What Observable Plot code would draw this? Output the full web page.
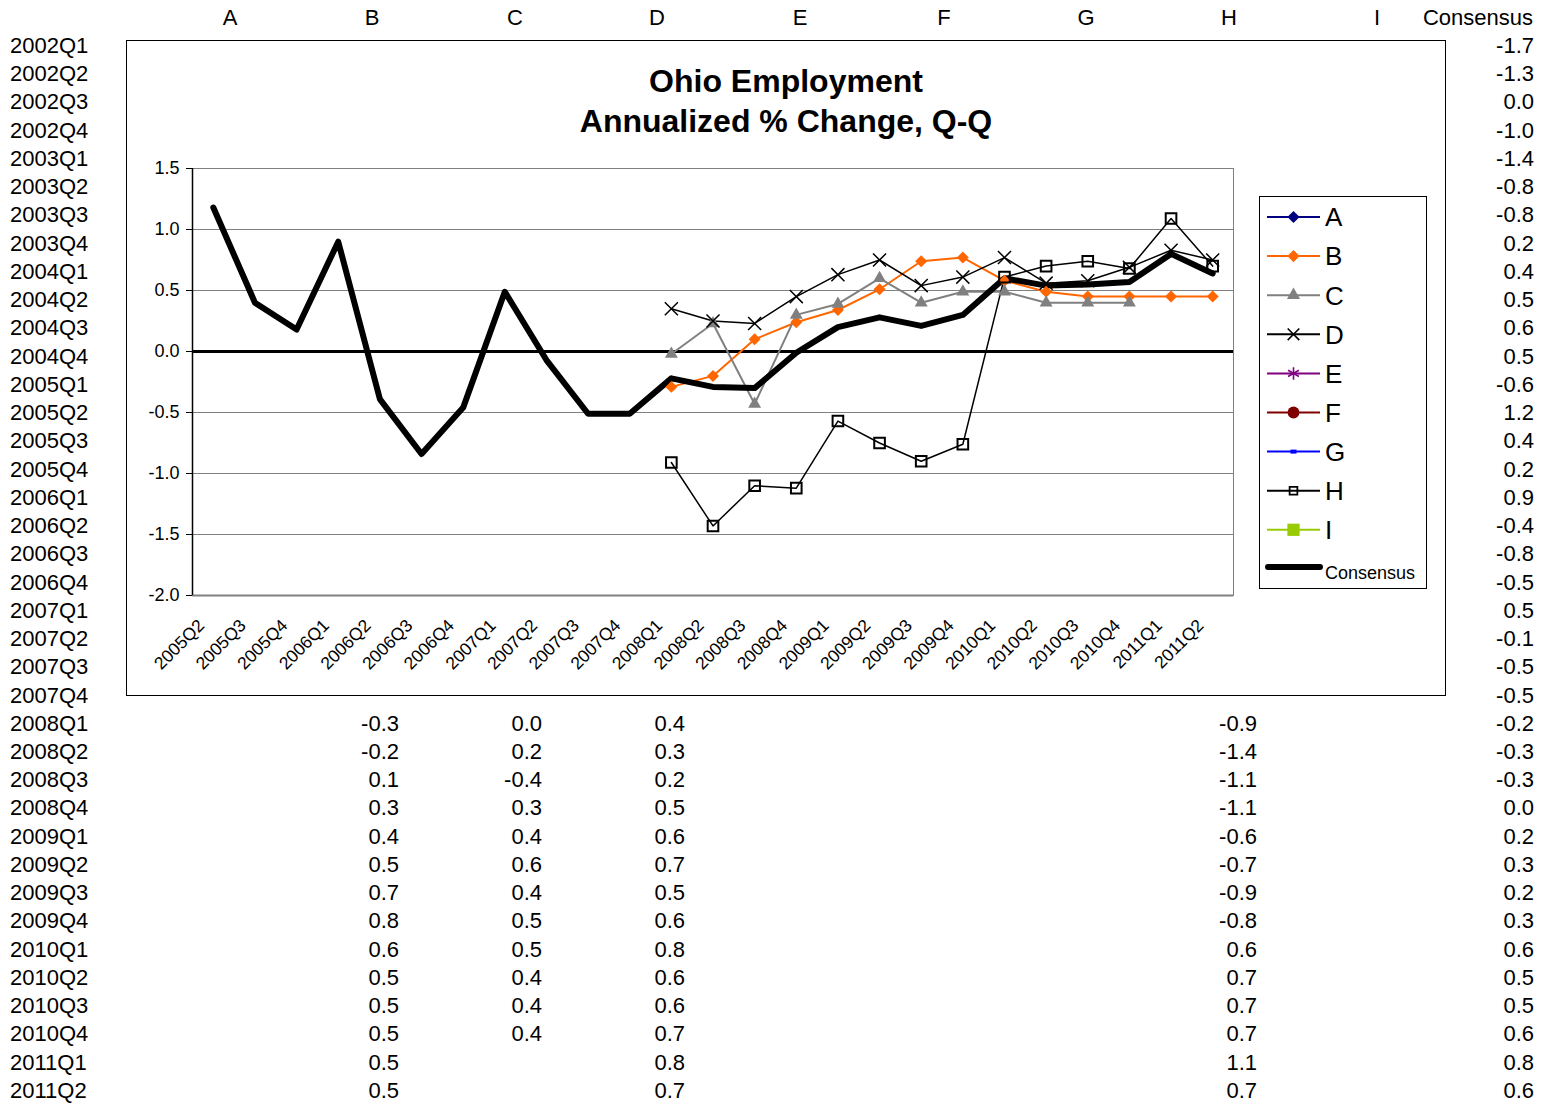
<!DOCTYPE html>
<html><head><meta charset="utf-8">
<script src="https://cdn.jsdelivr.net/npm/d3@7"></script>
<script src="https://cdn.jsdelivr.net/npm/@observablehq/plot@0.6"></script>
<style>
body{margin:0;background:#fff;font-family:"Liberation Sans",Arial,sans-serif;}
#page{position:relative;width:1541px;height:1104px;overflow:hidden;background:#fff;}
.cell{position:absolute;font-size:22px;line-height:22px;white-space:nowrap;color:#000;}
#box{position:absolute;left:126px;top:40px;width:1320px;height:656px;box-sizing:border-box;border:1px solid #000;background:#fff;}
#chart{position:absolute;left:126px;top:40px;}
.title{position:absolute;left:126px;width:1320px;text-align:center;font-weight:bold;font-size:32px;line-height:32px;}
#legend{position:absolute;left:1259px;top:196px;width:168px;height:393px;box-sizing:border-box;border:1px solid #000;background:#fff;}
</style></head><body><div id="page"></div>
<script>
// ---------- spreadsheet data ----------
const rowLabels = ["2002Q1","2002Q2","2002Q3","2002Q4","2003Q1","2003Q2","2003Q3","2003Q4",
  "2004Q1","2004Q2","2004Q3","2004Q4","2005Q1","2005Q2","2005Q3","2005Q4",
  "2006Q1","2006Q2","2006Q3","2006Q4","2007Q1","2007Q2","2007Q3","2007Q4",
  "2008Q1","2008Q2","2008Q3","2008Q4","2009Q1","2009Q2","2009Q3","2009Q4",
  "2010Q1","2010Q2","2010Q3","2010Q4","2011Q1","2011Q2"];
const columnHeaders = ["A","B","C","D","E","F","G","H","I"];
const consensusHeader = "Consensus";
const consensusTable = [-1.7,-1.3,0.0,-1.0,-1.4,-0.8,-0.8,0.2,0.4,0.5,0.6,0.5,
  -0.6,1.2,0.4,0.2,0.9,-0.4,-0.8,-0.5,0.5,-0.1,-0.5,-0.5,
  -0.2,-0.3,-0.3,0.0,0.2,0.3,0.2,0.3,0.6,0.5,0.5,0.6,0.8,0.6];
const tableStart = "2008Q1";
const tableB = [-0.3,-0.2,0.1,0.3,0.4,0.5,0.7,0.8,0.6,0.5,0.5,0.5,0.5,0.5];
const tableC = [0.0,0.2,-0.4,0.3,0.4,0.6,0.4,0.5,0.5,0.4,0.4,0.4];
const tableD = [0.4,0.3,0.2,0.5,0.6,0.7,0.5,0.6,0.8,0.6,0.6,0.7,0.8,0.7];
const tableH = [-0.9,-1.4,-1.1,-1.1,-0.6,-0.7,-0.9,-0.8,0.6,0.7,0.7,0.7,1.1,0.7];

// ---------- chart data ----------
const chartTitle = ["Ohio Employment", "Annualized % Change, Q-Q"];
const quarters = ["2005Q2","2005Q3","2005Q4","2006Q1","2006Q2","2006Q3","2006Q4",
  "2007Q1","2007Q2","2007Q3","2007Q4","2008Q1","2008Q2","2008Q3","2008Q4",
  "2009Q1","2009Q2","2009Q3","2009Q4","2010Q1","2010Q2","2010Q3","2010Q4","2011Q1","2011Q2"];
const consensus = [1.18,0.40,0.18,0.90,-0.39,-0.84,-0.46,0.49,-0.07,-0.51,-0.51,
  -0.22,-0.29,-0.30,-0.01,0.20,0.28,0.21,0.30,0.60,0.54,0.55,0.57,0.80,0.64];
const seriesStart = "2008Q1";
const seriesB = [-0.29,-0.20,0.10,0.24,0.34,0.51,0.74,0.77,0.58,0.49,0.45,0.45,0.45,0.45];
const seriesC = [-0.02,0.23,-0.43,0.30,0.39,0.60,0.40,0.49,0.49,0.40,0.40,0.40];
const seriesD = [0.35,0.25,0.23,0.45,0.63,0.75,0.54,0.61,0.77,0.56,0.58,0.69,0.83,0.75];
const seriesH = [-0.91,-1.43,-1.10,-1.12,-0.57,-0.75,-0.90,-0.76,0.61,0.70,0.74,0.68,1.09,0.70];
const yTicks = [-2.0,-1.5,-1.0,-0.5,0.0,0.5,1.0,1.5];

const legendNames = ["A","B","C","D","E","F","G","H","I"];
const legendColors = ["#000080","#FF6600","#808080","#000000","#800080","#800000","#0000FF","#000000","#99CC00"];
const legendSymbols = ["diamond","diamond","triangle","times","asterisk","circle","dash","square","squareFilled"];

// ---------- layout ----------
const page = document.getElementById("page");
const rowY0 = 46, rowStep = 28.24, headerY = 18;
const colCenters = [230,372,515,657,800,944,1086,1229,1377];
const valueRight = {B:399, C:542, D:685, H:1257};
const consensusRight = 1534;
const fmt = v => v.toFixed(1);

function cell(text, opts) {
  const d = document.createElement("div");
  d.className = "cell";
  d.textContent = text;
  d.style.top = (opts.y - 11) + "px";
  if (opts.left != null) d.style.left = opts.left + "px";
  if (opts.right != null) { d.style.right = (1541 - opts.right) + "px"; d.style.textAlign = "right"; }
  if (opts.center != null) { d.style.left = opts.center + "px"; d.style.transform = "translateX(-50%)"; }
  page.appendChild(d);
}
columnHeaders.forEach((h, i) => cell(h, {center: colCenters[i], y: headerY}));
cell(consensusHeader, {right: consensusRight - 1, y: headerY});
rowLabels.forEach((r, i) => cell(r, {left: 10, y: rowY0 + i * rowStep}));
consensusTable.forEach((v, i) => cell(fmt(v), {right: consensusRight, y: rowY0 + i * rowStep}));
const t0 = rowLabels.indexOf(tableStart);
[["B", tableB], ["C", tableC], ["D", tableD], ["H", tableH]].forEach(([k, arr]) =>
  arr.forEach((v, i) => cell(fmt(v), {right: valueRight[k], y: rowY0 + (t0 + i) * rowStep})));

// chart box
const box = document.createElement("div"); box.id = "box"; page.appendChild(box);

// ---------- chart ----------
const s0 = quarters.indexOf(seriesStart);
const rows = (vals, start) => vals.map((v, i) => ({q: quarters[start + i], v}));
const consRows = rows(consensus, 0);
const bRows = rows(seriesB, s0), cRows = rows(seriesC, s0), dRows = rows(seriesD, s0), hRows = rows(seriesH, s0);

const leftAxisLine = (index, scales, values, dims) => {
  const l = document.createElementNS("http://www.w3.org/2000/svg", "line");
  l.setAttribute("x1", dims.marginLeft + 0.5); l.setAttribute("x2", dims.marginLeft + 0.5);
  l.setAttribute("y1", dims.marginTop); l.setAttribute("y2", dims.height - dims.marginBottom);
  l.setAttribute("stroke", "#000"); l.setAttribute("stroke-width", 1.5);
  return l;
};

const chart = Plot.plot({
  width: 1320, height: 656,
  marginLeft: 66, marginRight: 213, marginTop: 128, marginBottom: 101,
  x: {type: "point", domain: quarters, padding: 0.5, round: false, axis: null},
  y: {domain: [-2, 1.5], axis: null},
  style: {fontFamily: "'Liberation Sans', Arial, sans-serif", fontSize: "18px", color: "#000", background: "transparent", overflow: "visible"},
  marks: [
    Plot.gridY(yTicks, {stroke: "#808080", strokeOpacity: 1, strokeWidth: 1}),
    Plot.frame({stroke: "#808080"}),
    Plot.ruleY([-2], {stroke: "#808080", strokeWidth: 2}),
    leftAxisLine,
    Plot.axisY(yTicks, {label: null, tickFormat: d => d.toFixed(1), tickSize: 6, tickPadding: 7, fontSize: 18, stroke: "#000"}),
    Plot.text(quarters, {x: d => d, frameAnchor: "bottom", rotate: -45, textAnchor: "end", dx: -8, dy: 31, fontSize: 17.5, fill: "#000"}),
    Plot.ruleY([0], {stroke: "#000", strokeWidth: 3}),
    Plot.line(bRows, {x: "q", y: "v", stroke: "#FF6600", strokeWidth: 2}),
    Plot.line(cRows, {x: "q", y: "v", stroke: "#808080", strokeWidth: 2}),
    Plot.line(dRows, {x: "q", y: "v", stroke: "#000", strokeWidth: 1.5}),
    Plot.line(hRows, {x: "q", y: "v", stroke: "#000", strokeWidth: 1.5}),
    Plot.line(consRows, {x: "q", y: "v", stroke: "#000", strokeWidth: 6, strokeLinejoin: "round", strokeLinecap: "round"}),
    Plot.dot(bRows, {x: "q", y: "v", symbol: "diamond2", fill: "#FF6600", stroke: "none", r: 5.4}),
    Plot.dot(cRows, {x: "q", y: "v", symbol: "triangle", fill: "#808080", stroke: "none", r: 4.8}),
    Plot.dot(dRows, {x: "q", y: "v", symbol: "times", fill: "none", stroke: "#000", strokeWidth: 1.5, r: 6}),
    Plot.dot(hRows, {x: "q", y: "v", symbol: "square", fill: "none", stroke: "#000", strokeWidth: 2, r: 6})
  ]
});
chart.id = "chart";
page.appendChild(chart);

// titles
chartTitle.forEach((t, i) => {
  const d = document.createElement("div");
  d.className = "title"; d.textContent = t;
  d.style.top = ([81, 121][i] - 16) + "px";
  page.appendChild(d);
});

// ---------- legend ----------
const leg = document.createElement("div"); leg.id = "legend"; page.appendChild(leg);
const lsvg = d3.create("svg").attr("width", 168).attr("height", 393)
  .style("position", "absolute").style("left", "-1px").style("top", "-1px");
const itemY = i => 21 + i * 39.1;
const symMap = {diamond: d3.symbolDiamond2, triangle: d3.symbolTriangle, times: d3.symbolTimes,
  asterisk: d3.symbolAsterisk, circle: d3.symbolCircle, square: d3.symbolSquare, squareFilled: d3.symbolSquare};
legendNames.forEach((n, i) => {
  const g = lsvg.append("g").attr("transform", `translate(0,${itemY(i)})`);
  const c = legendColors[i], s = legendSymbols[i];
  g.append("line").attr("x1", 8).attr("x2", 61).attr("stroke", c).attr("stroke-width", 2);
  const m = g.append("g").attr("transform", "translate(34.5,0)");
  if (s === "dash") {
    m.append("rect").attr("x", -3).attr("y", -2).attr("width", 6).attr("height", 4).attr("fill", c);
  } else {
    const stroked = s === "times" || s === "asterisk" || s === "square";
    const size = {diamond: 95, triangle: 75, times: 90, asterisk: 110, circle: 110, square: 60, squareFilled: 150}[s];
    m.append("path").attr("d", d3.symbol(symMap[s], size)())
      .attr("fill", stroked ? "none" : c).attr("stroke", stroked ? c : "none")
      .attr("stroke-width", s === "square" ? 1.8 : 1.6);
  }
  g.append("text").attr("x", 66).attr("dy", "0.36em").attr("font-size", 26)
    .attr("font-family", "'Liberation Sans', Arial, sans-serif").text(n);
});
const cg = lsvg.append("g").attr("transform", "translate(0,371)");
cg.append("line").attr("x1", 9).attr("x2", 61).attr("stroke", "#000").attr("stroke-width", 6).attr("stroke-linecap", "round");
cg.append("text").attr("x", 66).attr("y", 6).attr("dy", "0.36em").attr("font-size", 18)
  .attr("font-family", "'Liberation Sans', Arial, sans-serif").text("Consensus");
leg.appendChild(lsvg.node());
</script></body></html>
